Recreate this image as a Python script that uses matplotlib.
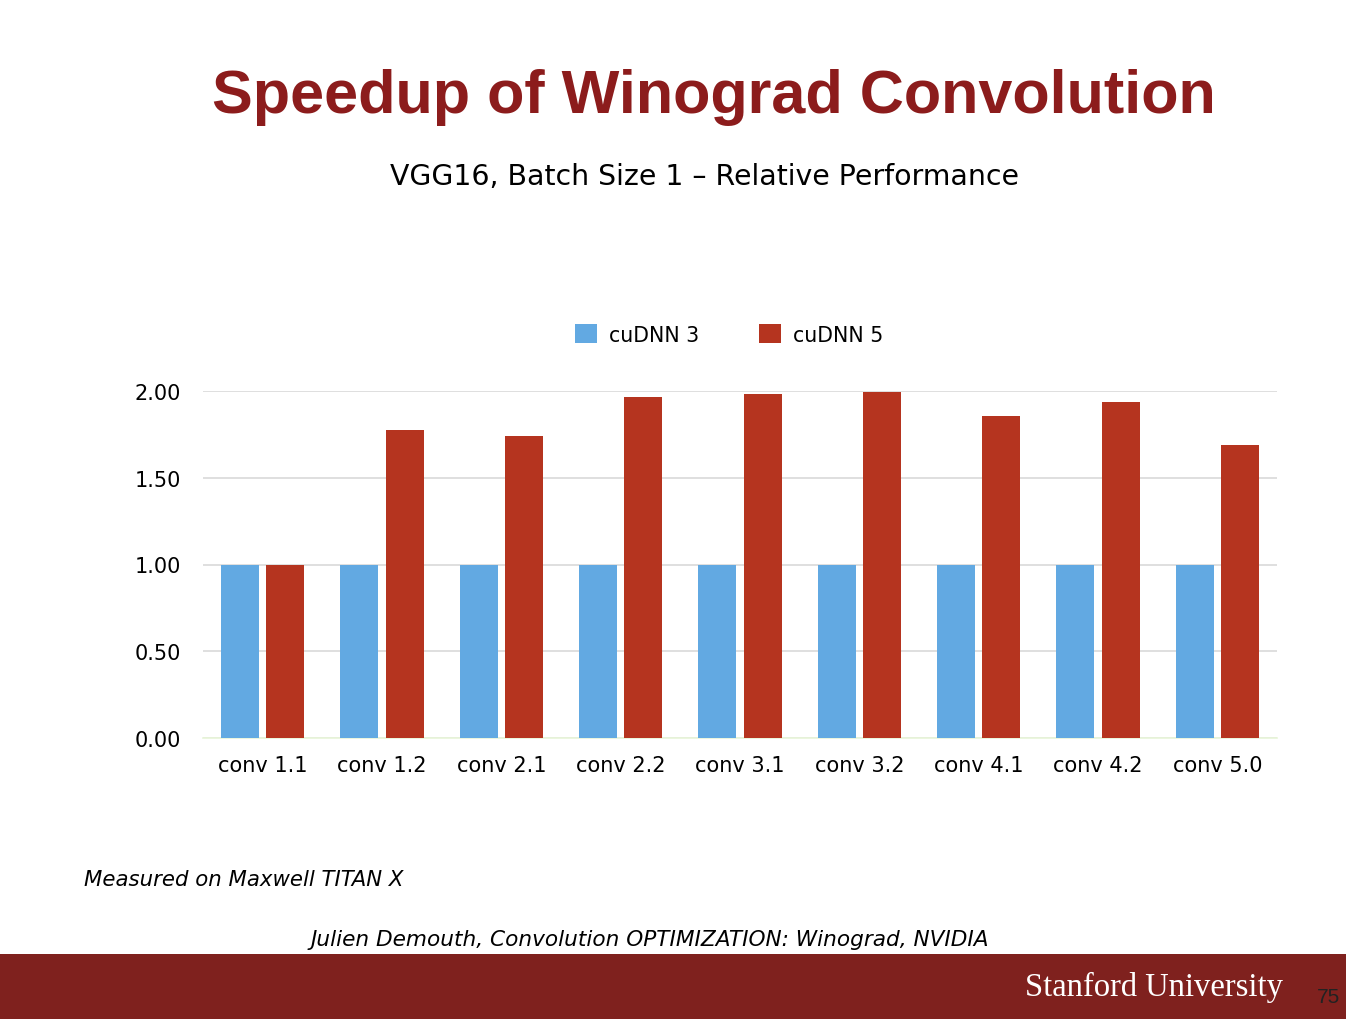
#!/usr/bin/env python
"""
Speedup of Winograd convolution, cuDNN 3 vs cuDNN 5 (VGG16, batch size 1).
"""

import numpy as np
import matplotlib
matplotlib.use("Agg")
import matplotlib.pyplot as plt
from matplotlib.patches import Rectangle

layers = ["conv 1.1", "conv 1.2", "conv 2.1", "conv 2.2", "conv 3.1",
          "conv 3.2", "conv 4.1", "conv 4.2", "conv 5.0"]
cudnn3 = [1.00, 1.00, 1.00, 1.00, 1.00, 1.00, 1.00, 1.00, 1.00]
cudnn5 = [1.00, 1.775, 1.74, 1.965, 1.98, 1.995, 1.855, 1.935, 1.69]
yticks = [0.0, 0.5, 1.0, 1.5, 2.0]

blue = "#62a9e2"
red = "#b5341f"
cardinal = "#8c1c1c"
band = "#7f211e"

fig = plt.figure(figsize=(13.46, 10.2), dpi=100)
fig.patch.set_facecolor("white")

# footer band
fig.add_artist(Rectangle((0, 0), 1, 65 / 1020, transform=fig.transFigure,
                         facecolor=band, edgecolor="none", zorder=0))

ax = fig.add_axes([203 / 1346, 1 - 739 / 1020, 1074 / 1346, 347 / 1020])
x = np.arange(len(layers))
w = 0.32
ax.bar(x - 0.19, cudnn3, w, color=blue, label="cuDNN 3", zorder=3)
ax.bar(x + 0.19, cudnn5, w, color=red, label="cuDNN 5", zorder=3)

ax.set_xlim(-0.5, len(layers) - 0.5)
ax.set_ylim(0, 2.0)
ax.set_yticks(yticks)
ax.set_yticklabels(["%.2f" % v for v in yticks])
ax.set_xticks(x)
ax.set_xticklabels(layers)
ax.tick_params(axis="both", length=0, labelsize=15, colors="black")
ax.tick_params(axis="y", pad=16)
ax.tick_params(axis="x", pad=12)
ax.yaxis.grid(True, color="#d9d9d9", linewidth=1.2, zorder=0)
for s in ["top", "right", "left"]:
    ax.spines[s].set_visible(False)
ax.spines["bottom"].set_color("#e8f5d8")
ax.spines["bottom"].set_linewidth(1.2)

ax.legend(loc="lower center", bbox_to_anchor=(0.49, 1.08), ncol=2, frameon=False,
          fontsize=14.8, handlelength=1.07, handleheight=1.07, columnspacing=2.9,
          handletextpad=0.6)

fig.text(714 / 1346, 1 - 97 / 1020, "Speedup of Winograd Convolution",
         ha="center", va="center", fontsize=44, fontweight="bold",
         color=cardinal, family="Liberation Sans")
fig.text(704 / 1346, 1 - 177 / 1020, "VGG16, Batch Size 1 \u2013 Relative Performance",
         ha="center", va="center", fontsize=20.4, color="black")
fig.text(84 / 1346, 1 - 880 / 1020, "Measured on Maxwell TITAN X",
         ha="left", va="center", fontsize=15.3, style="italic", color="black")
fig.text(650 / 1346, 1 - 940 / 1020,
         "Julien Demouth, Convolution OPTIMIZATION: Winograd, NVIDIA",
         ha="center", va="center", fontsize=15.6, style="italic", color="black")
fig.text(1283 / 1346, 1 - 987 / 1020, "Stanford University",
         ha="right", va="center", fontsize=23.5, color="white", family="Liberation Serif")
fig.text(1328 / 1346, 1 - 998 / 1020, "75",
         ha="center", va="center", fontsize=15, color="#222222", family="Liberation Sans")

fig.savefig("out.png", dpi=100, facecolor="white")
